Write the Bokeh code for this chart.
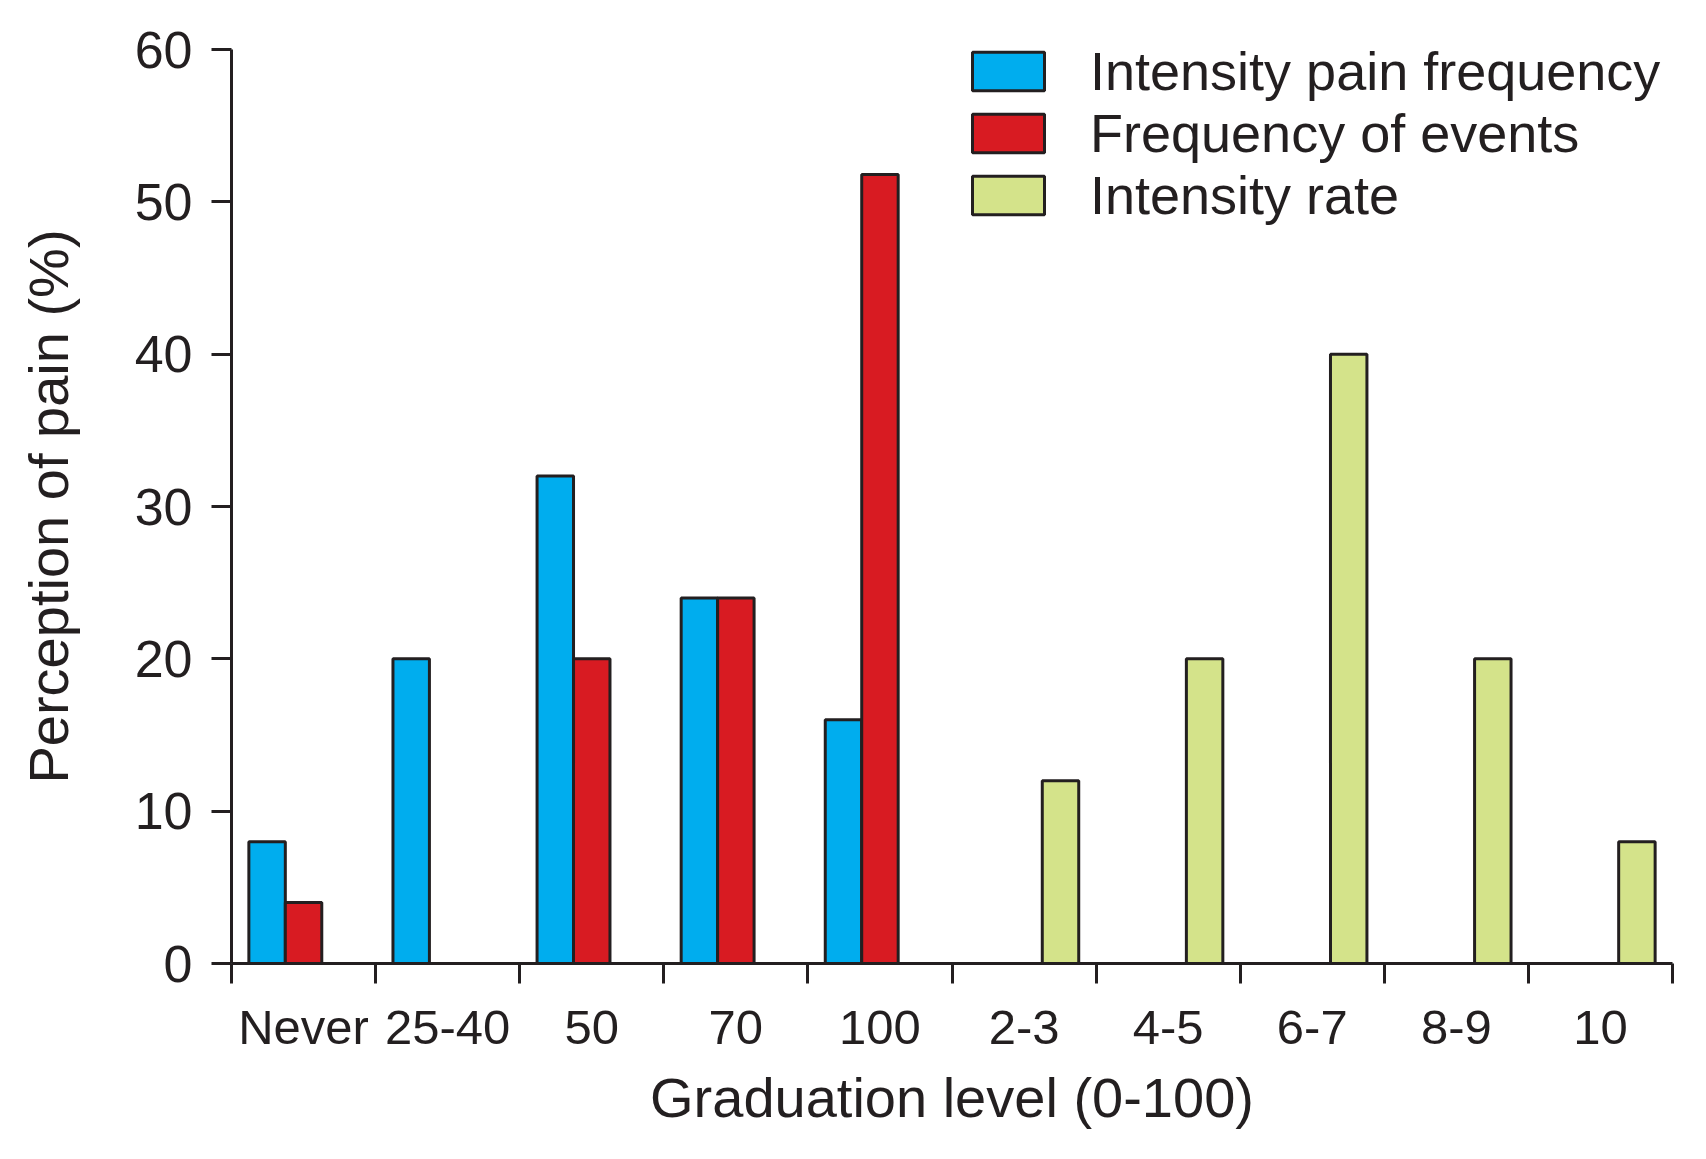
from bokeh.plotting import figure
from bokeh.models import Range1d, FixedTicker, Legend, LegendItem
from bokeh.embed import file_html
from bokeh.resources import INLINE

# ---- data ----
categories = ["Never", "25-40", "50", "70", "100", "2-3", "4-5", "6-7", "8-9", "10"]

pain_freq_cats = ["Never", "25-40", "50", "70", "100"]
pain_freq_vals = [8, 20, 32, 24, 16]

events_cats = ["Never", "50", "70", "100"]
events_vals = [4, 20, 24, 51.8]

rate_cats = ["2-3", "4-5", "6-7", "8-9", "10"]
rate_vals = [12, 20, 40, 20, 8]

series_labels = ["Intensity pain frequency", "Frequency of events", "Intensity rate"]

y_ticks = [0, 10, 20, 30, 40, 50, 60]

# ---- styling ----
INK = "#231f20"
FONT = "Liberation Sans"
BLUE = "#00adee"
RED = "#d81b22"
GREEN = "#d4e38a"
BAR_W = 0.253
OFFSETS = [-0.253, 0.0, 0.253]

p = figure(width=1700, height=1150,
           x_range=Range1d(0, len(categories)), y_range=Range1d(0, 60),
           output_backend="svg", toolbar_location=None,
           min_border_left=231, min_border_right=28,
           min_border_top=49, min_border_bottom=187)
p.outline_line_color = None
p.xgrid.visible = False
p.ygrid.visible = False
p.background_fill_color = "white"
p.border_fill_color = "white"


def xs(cats, off):
    return [categories.index(c) + 0.5 + off for c in cats]


bar_kw = dict(width=BAR_W, bottom=0, line_color=INK, line_width=3)
r1 = p.vbar(x=xs(pain_freq_cats, OFFSETS[0]), top=pain_freq_vals, fill_color=BLUE, **bar_kw)
r2 = p.vbar(x=xs(events_cats, OFFSETS[1]), top=events_vals, fill_color=RED, **bar_kw)
r3 = p.vbar(x=xs(rate_cats, OFFSETS[2]), top=rate_vals, fill_color=GREEN, **bar_kw)

# x axis: ticks at category boundaries, labels at centers
centers = [i + 0.5 for i in range(len(categories))]
bounds = list(range(len(categories) + 1))
xa = p.xaxis[0]
xa.ticker = FixedTicker(ticks=centers, minor_ticks=bounds)
xa.major_label_overrides = {c: lab for c, lab in zip(centers, categories)}
xa.major_tick_out = 0
xa.major_tick_in = 0
xa.minor_tick_out = 20
xa.minor_tick_in = 0
xa.minor_tick_line_width = 3
xa.minor_tick_line_color = INK
xa.axis_line_width = 3
xa.axis_line_color = INK
xa.major_label_text_font = FONT
xa.major_label_text_font_size = "49px"
xa.major_label_text_color = INK
xa.major_label_standoff = 16
xa.axis_label = "Graduation level (0-100)"
xa.axis_label_text_font = FONT
xa.axis_label_text_font_size = "56px"
xa.axis_label_text_font_style = "normal"
xa.axis_label_text_color = INK
xa.axis_label_standoff = 9

ya = p.yaxis[0]
ya.ticker = FixedTicker(ticks=y_ticks, minor_ticks=[])
ya.major_tick_out = 20
ya.major_tick_in = 0
ya.minor_tick_out = 0
ya.minor_tick_in = 0
ya.major_tick_line_width = 3
ya.major_tick_line_color = INK
ya.axis_line_width = 3
ya.axis_line_color = INK
ya.major_label_text_font = FONT
ya.major_label_text_font_size = "52px"
ya.major_label_text_color = INK
ya.major_label_standoff = 19
ya.axis_label = "Perception of pain (%)"
ya.axis_label_text_font = FONT
ya.axis_label_text_font_size = "56px"
ya.axis_label_text_font_style = "normal"
ya.axis_label_text_color = INK
ya.axis_label_standoff = 52

legend = Legend(items=[
    LegendItem(label=series_labels[0], renderers=[r1]),
    LegendItem(label=series_labels[1], renderers=[r2]),
    LegendItem(label=series_labels[2], renderers=[r3]),
], location=(732, 737))
legend.glyph_width = 90
legend.glyph_height = 48
legend.label_standoff = 37
legend.spacing = 0
legend.padding = 0
legend.margin = 0
legend.border_line_color = None
legend.background_fill_alpha = 0
legend.label_text_font = FONT
legend.label_text_font_size = "54px"
legend.label_text_color = INK
p.add_layout(legend)

open("out.html", "w").write(file_html(p, INLINE))
